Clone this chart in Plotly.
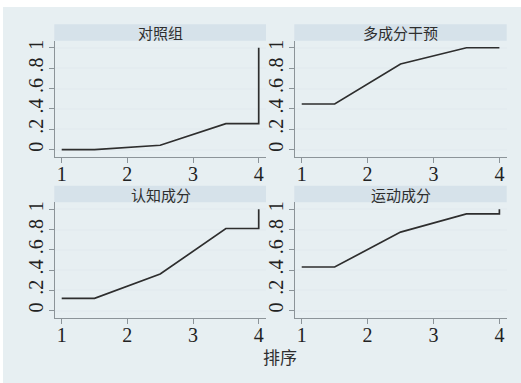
import plotly.graph_objects as go

# Cumulative ranking probabilities (rank 1..4) for each intervention
panel_titles = ["对照组", "多成分干预", "认知成分", "运动成分"]
control = [0.0, 0.043, 0.255, 1.0]
multi_component = [0.448, 0.84, 1.0, 1.0]
cognitive = [0.12, 0.36, 0.81, 1.0]
exercise = [0.43, 0.775, 0.955, 1.0]
series = [control, multi_component, cognitive, exercise]

ranks = [1, 2, 3, 4]
y_ticks = [0, 0.2, 0.4, 0.6, 0.8, 1.0]
y_ticktext = ["0", ".2", ".4", ".6", ".8", "1"]
x_title = "排序"

W, H = 521, 383
BG = "#e7eff2"
BAND = "#d6e2ea"
GRID = "#e4ecf0"
AXIS = "#8c9499"
INK = "#2e2e2e"
SERIF = "Liberation Serif"


def fx(px):
    return px / W


def fy(py):
    return 1 - py / H


# pixel boxes of each plot area: (left, right, top, bottom)
cols = [(55, 266), (295, 506.7)]
rows = [(40.7, 156.7), (202.3, 317.5)]
band_h = 16.5


def step_path(c):
    # flat to the first midpoint, join the midpoints, flat to the last rank, rise to 1
    xs = [ranks[0], ranks[0] + 0.5, ranks[1] + 0.5, ranks[2] + 0.5, ranks[3], ranks[3]]
    ys = [c[0], c[0], c[1], c[2], c[2], c[3]]
    return xs, ys


fig = go.Figure()
shapes = [
    dict(type="rect", xref="paper", yref="paper", x0=0, x1=1, y0=0, y1=1,
         fillcolor="white", line_width=0, layer="below"),
    dict(type="rect", xref="paper", yref="paper", x0=fx(3), x1=1, y0=0, y1=fy(7),
         fillcolor=BG, line_width=0, layer="below"),
]
annotations = []

for i, (title, vals) in enumerate(zip(panel_titles, series)):
    r, c = divmod(i, 2)
    l, rr = cols[c]
    t, b = rows[r]
    n = "" if i == 0 else str(i + 1)
    xs, ys = step_path(vals)
    fig.add_trace(go.Scatter(x=xs, y=ys, mode="lines", xaxis="x" + n, yaxis="y" + n,
                             line=dict(color=INK, width=1.7), showlegend=False,
                             hoverinfo="skip"))
    fig.layout["xaxis" + n] = dict(
        domain=[fx(l), fx(rr)], anchor="y" + n, range=[0.898, 4.111],
        tickvals=ranks, fixedrange=True,
    )
    fig.layout["yaxis" + n] = dict(
        domain=[fy(b), fy(t)], anchor="x" + n, range=[-0.069, 1.069],
        tickvals=y_ticks, ticktext=y_ticktext, tickangle=-90, fixedrange=True,
    )
    shapes.append(dict(type="rect", xref="paper", yref="paper",
                       x0=fx(l - 0.7), x1=fx(rr), y0=fy(t), y1=fy(t - band_h),
                       fillcolor=BAND, line_width=0, layer="below"))
    annotations.append(dict(text=title, xref="paper", yref="paper",
                            x=fx((l + rr) / 2), y=fy(t - band_h / 2),
                            xanchor="center", yanchor="middle", showarrow=False,
                            font=dict(family="Noto Sans CJK SC", size=15, color=INK)))

fig.update_xaxes(ticks="outside", ticklen=5, tickcolor=AXIS, tickwidth=1,
                 showline=True, linecolor=AXIS, linewidth=1, showgrid=False,
                 zeroline=False, ticklabelstandoff=-6,
                 tickfont=dict(family=SERIF, size=20, color="#222222"))
fig.update_yaxes(ticks="outside", ticklen=5, tickcolor=AXIS, tickwidth=1,
                 showline=True, linecolor=AXIS, linewidth=1,
                 showgrid=True, gridcolor=GRID, gridwidth=1.5, zeroline=False,
                 ticklabelstandoff=-2,
                 tickfont=dict(family=SERIF, size=20, color="#222222"))

annotations.append(dict(text=x_title, xref="paper", yref="paper",
                        x=fx(280), y=fy(356), xanchor="center", yanchor="middle",
                        showarrow=False,
                        font=dict(family="Noto Sans CJK SC", size=17, color=INK)))

fig.update_layout(
    width=W, height=H, margin=dict(l=0, r=0, t=0, b=0),
    paper_bgcolor=BG, plot_bgcolor="white",
    shapes=shapes, annotations=annotations,
)

fig.write_html("out.html", config={"displayModeBar": False})
